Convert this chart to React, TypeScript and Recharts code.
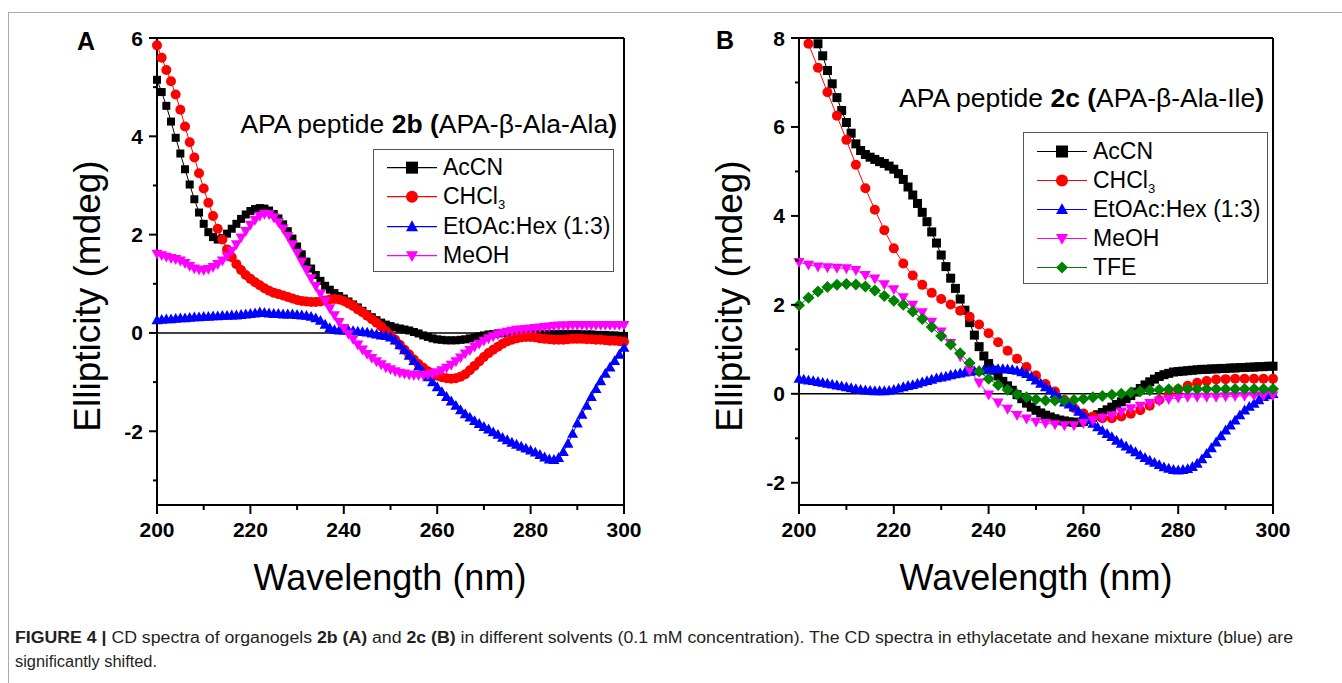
import { LineChart, Line, XAxis, YAxis, ReferenceLine, Legend } from 'recharts'

// ── Data ───────────────────────────────────────────────────────────────────────
const WL_1NM = [
  200, 201, 202, 203, 204, 205, 206, 207, 208, 209,
  210, 211, 212, 213, 214, 215, 216, 217, 218, 219,
  220, 221, 222, 223, 224, 225, 226, 227, 228, 229,
  230, 231, 232, 233, 234, 235, 236, 237, 238, 239,
  240, 241, 242, 243, 244, 245, 246, 247, 248, 249,
  250, 251, 252, 253, 254, 255, 256, 257, 258, 259,
  260, 261, 262, 263, 264, 265, 266, 267, 268, 269,
  270, 271, 272, 273, 274, 275, 276, 277, 278, 279,
  280, 281, 282, 283, 284, 285, 286, 287, 288, 289,
  290, 291, 292, 293, 294, 295, 296, 297, 298, 299,
  300,
]

const WL_2NM = [
  200, 202, 204, 206, 208, 210, 212, 214, 216, 218,
  220, 222, 224, 226, 228, 230, 232, 234, 236, 238,
  240, 242, 244, 246, 248, 250, 252, 254, 256, 258,
  260, 262, 264, 266, 268, 270, 272, 274, 276, 278,
  280, 282, 284, 286, 288, 290, 292, 294, 296, 298,
  300,
]

const X_TICKS = [200, 210, 220, 230, 240, 250, 260, 270, 280, 290, 300]
const Y_TICKS_A = [-3, -2, -1, 0, 1, 2, 3, 4, 5, 6]
const Y_TICKS_B = [-2, -1, 0, 1, 2, 3, 4, 5, 6, 7, 8]

// panel A, 2b (1 nm step)
const A_ACCN = [
  5.15, 4.90, 4.62, 4.30, 3.97, 3.65, 3.33, 3.02, 2.72, 2.45,
  2.22, 2.05, 1.95, 1.90, 1.93, 2.02, 2.12, 2.22, 2.32, 2.41,
  2.48, 2.52, 2.54, 2.53, 2.49, 2.42, 2.33, 2.21, 2.07, 1.92,
  1.76, 1.60, 1.45, 1.31, 1.18, 1.06, 0.96, 0.88, 0.81, 0.75,
  0.70, 0.64, 0.58, 0.52, 0.45, 0.38, 0.32, 0.26, 0.21, 0.17,
  0.14, 0.11, 0.09, 0.07, 0.05, 0.02, -0.01, -0.05, -0.08, -0.11,
  -0.13, -0.14, -0.15, -0.15, -0.15, -0.14, -0.13, -0.11, -0.09, -0.07,
  -0.05, -0.03, -0.02, -0.01, 0.00, 0.00, 0.00, -0.01, -0.01, -0.02,
  -0.02, -0.02, -0.02, -0.02, -0.02, -0.02, -0.02, -0.02, -0.02, -0.02,
  -0.02, -0.03, -0.03, -0.03, -0.04, -0.04, -0.04, -0.05, -0.05, -0.06,
  -0.06,
]
const A_CHCL3 = [
  5.85, 5.60, 5.35, 5.12, 4.85, 4.54, 4.20, 3.88, 3.57, 3.25,
  2.94, 2.65, 2.38, 2.12, 1.90, 1.70, 1.54, 1.40, 1.28, 1.18,
  1.10, 1.03, 0.97, 0.91, 0.86, 0.82, 0.79, 0.76, 0.73, 0.70,
  0.67, 0.65, 0.64, 0.63, 0.63, 0.64, 0.66, 0.68, 0.69, 0.68,
  0.65, 0.60, 0.55, 0.48, 0.42, 0.35, 0.28, 0.21, 0.13, 0.04,
  -0.05, -0.14, -0.24, -0.34, -0.44, -0.54, -0.63, -0.71, -0.78, -0.83,
  -0.87, -0.90, -0.92, -0.93, -0.92, -0.89, -0.84, -0.76, -0.67, -0.58,
  -0.49, -0.41, -0.34, -0.28, -0.22, -0.17, -0.14, -0.11, -0.09, -0.08,
  -0.08, -0.09, -0.11, -0.12, -0.13, -0.14, -0.14, -0.14, -0.13, -0.12,
  -0.12, -0.12, -0.13, -0.13, -0.14, -0.14, -0.15, -0.16, -0.16, -0.17,
  -0.18,
]
const A_ETOAC = [
  0.26, 0.27, 0.28, 0.28, 0.29, 0.30, 0.30, 0.31, 0.32, 0.32,
  0.33, 0.33, 0.34, 0.34, 0.35, 0.35, 0.36, 0.36, 0.37, 0.38,
  0.39, 0.40, 0.42, 0.41, 0.40, 0.39, 0.39, 0.38, 0.38, 0.38,
  0.37, 0.36, 0.35, 0.33, 0.30, 0.25, 0.17, 0.10, 0.06, 0.05,
  0.05, 0.05, 0.04, 0.03, 0.02, 0.01, -0.01, -0.03, -0.05, -0.06,
  -0.09, -0.15, -0.25, -0.35, -0.46, -0.57, -0.68, -0.79, -0.90, -1.00,
  -1.10, -1.20, -1.30, -1.39, -1.48, -1.57, -1.65, -1.72, -1.79, -1.85,
  -1.91, -1.96, -2.02, -2.07, -2.13, -2.18, -2.23, -2.27, -2.31, -2.35,
  -2.39, -2.43, -2.48, -2.53, -2.57, -2.58, -2.54, -2.42, -2.25, -2.05,
  -1.84, -1.66, -1.48, -1.30, -1.14, -0.98, -0.83, -0.70, -0.57, -0.44,
  -0.30,
]
const A_MEOH = [
  1.61, 1.58, 1.55, 1.52, 1.50, 1.47, 1.42, 1.36, 1.31, 1.29,
  1.28, 1.30, 1.34, 1.40, 1.47, 1.56, 1.67, 1.80, 1.94, 2.07,
  2.20, 2.30, 2.38, 2.42, 2.41, 2.35, 2.25, 2.12, 1.97, 1.80,
  1.63, 1.45, 1.28, 1.11, 0.95, 0.80, 0.65, 0.50, 0.36, 0.22,
  0.10, -0.02, -0.13, -0.24, -0.34, -0.43, -0.51, -0.58, -0.64, -0.70,
  -0.74, -0.78, -0.81, -0.83, -0.85, -0.86, -0.86, -0.86, -0.85, -0.83,
  -0.80, -0.76, -0.71, -0.65, -0.58, -0.50, -0.42, -0.35, -0.28, -0.22,
  -0.16, -0.11, -0.07, -0.03, 0.00, 0.02, 0.04, 0.06, 0.07, 0.08,
  0.09, 0.10, 0.11, 0.12, 0.13, 0.14, 0.15, 0.15, 0.15, 0.16,
  0.16, 0.16, 0.16, 0.16, 0.16, 0.16, 0.16, 0.16, 0.16, 0.16,
  0.16,
]

// panel B, 2c (AcCN and EtOAc 1 nm step, the others 2 nm)
const B_ACCN = [
  null, null, null, null, 7.87, 7.60, 7.27, 6.97, 6.66, 6.37,
  6.10, 5.86, 5.62, 5.47, 5.38, 5.32, 5.27, 5.22, 5.18, 5.12,
  5.05, 4.95, 4.82, 4.65, 4.47, 4.28, 4.08, 3.87, 3.64, 3.39,
  3.12, 2.86, 2.60, 2.37, 2.13, 1.88, 1.60, 1.32, 1.06, 0.85,
  0.68, 0.53, 0.40, 0.28, 0.18, 0.08, -0.02, -0.11, -0.21, -0.30,
  -0.37, -0.43, -0.48, -0.52, -0.56, -0.59, -0.61, -0.63, -0.64, -0.64,
  -0.62, -0.58, -0.53, -0.47, -0.42, -0.36, -0.30, -0.24, -0.18, -0.11,
  -0.04, 0.04, 0.12, 0.20, 0.27, 0.33, 0.39, 0.43, 0.46, 0.49,
  0.50, 0.51, 0.52, 0.53, 0.54, 0.55, 0.55, 0.56, 0.56, 0.57,
  0.57, 0.58, 0.58, 0.59, 0.59, 0.60, 0.60, 0.61, 0.61, 0.62,
  0.62,
]
const B_CHCL3 = [
  null, 7.87, 7.33, 6.78, 6.25, 5.71, 5.15, 4.62, 4.14, 3.68,
  3.27, 2.93, 2.66, 2.45, 2.27, 2.13, 2.01, 1.87, 1.73, 1.56,
  1.36, 1.16, 0.97, 0.79, 0.60, 0.41, 0.22, 0.05, -0.14, -0.32,
  -0.44, -0.51, -0.55, -0.55, -0.51, -0.45, -0.37, -0.27, -0.14, -0.02,
  0.10, 0.18, 0.25, 0.29, 0.32, 0.33, 0.34, 0.34, 0.34, 0.34,
  0.34,
]
const B_ETOAC = [
  0.34, 0.32, 0.30, 0.29, 0.27, 0.25, 0.23, 0.21, 0.19, 0.17,
  0.15, 0.13, 0.11, 0.09, 0.08, 0.07, 0.06, 0.06, 0.06, 0.07,
  0.09, 0.12, 0.15, 0.18, 0.20, 0.23, 0.26, 0.29, 0.32, 0.35,
  0.37, 0.39, 0.42, 0.44, 0.46, 0.48, 0.50, 0.51, 0.52, 0.53,
  0.54, 0.55, 0.56, 0.56, 0.55, 0.54, 0.52, 0.49, 0.45, 0.38,
  0.30, 0.23, 0.15, 0.08, 0.00, -0.10, -0.19, -0.24, -0.30, -0.40,
  -0.49, -0.58, -0.67, -0.75, -0.83, -0.90, -0.97, -1.05, -1.12, -1.18,
  -1.25, -1.31, -1.38, -1.44, -1.50, -1.55, -1.60, -1.65, -1.68, -1.71,
  -1.72, -1.71, -1.69, -1.64, -1.57, -1.47, -1.35, -1.22, -1.09, -0.95,
  -0.82, -0.71, -0.60, -0.48, -0.37, -0.29, -0.22, -0.14, -0.07, -0.03,
  0.00,
]
const B_MEOH = [
  2.96, 2.90, 2.86, 2.84, 2.83, 2.82, 2.78, 2.67, 2.59, 2.46,
  2.35, 2.17, 2.00, 1.83, 1.62, 1.40, 1.14, 0.84, 0.53, 0.25,
  -0.02, -0.20, -0.34, -0.48, -0.56, -0.63, -0.66, -0.69, -0.71, -0.71,
  -0.66, -0.60, -0.54, -0.49, -0.40, -0.33, -0.27, -0.21, -0.16, -0.12,
  -0.09, -0.07, -0.07, -0.07, -0.07, -0.06, -0.05, -0.05, -0.04, -0.04,
  -0.04,
]
const B_TFE = [
  1.99, 2.16, 2.30, 2.40, 2.45, 2.47, 2.46, 2.41, 2.32, 2.20,
  2.09, 2.00, 1.85, 1.68, 1.50, 1.30, 1.11, 0.91, 0.69, 0.50,
  0.34, 0.20, 0.09, -0.01, -0.08, -0.12, -0.15, -0.15, -0.15, -0.14,
  -0.11, -0.08, -0.05, -0.02, 0.00, 0.03, 0.06, 0.08, 0.09, 0.10,
  0.11, 0.11, 0.11, 0.11, 0.11, 0.11, 0.11, 0.11, 0.11, 0.11,
  0.11,
]

// ── Helpers ────────────────────────────────────────────────────────────────────
type Shape = 'square' | 'circle' | 'up' | 'down' | 'diamond'

interface Series {
  name: string
  xs: number[]
  ys: (number | null)[]
  color: string
  shape: Shape
  size: number
}

const toRows = (xs: number[], ys: (number | null)[]) =>
  xs.map((x, i) => ({ x, y: ys[i] })).filter(r => r.y !== null)

const FONT = 'Arial, "Liberation Sans", Helvetica, sans-serif'

const SERIES_A: Series[] = [
  { name: 'AcCN',  xs: WL_1NM, ys: A_ACCN,  color: '#000000', shape: 'square', size: 8 },
  { name: 'CHCl3', xs: WL_1NM, ys: A_CHCL3, color: '#ff0000', shape: 'circle', size: 10 },
  { name: 'EtOAc', xs: WL_1NM, ys: A_ETOAC, color: '#0000ff', shape: 'up',     size: 11 },
  { name: 'MeOH',  xs: WL_1NM, ys: A_MEOH,  color: '#ff00ff', shape: 'down',   size: 11 },
]

const SERIES_B: Series[] = [
  { name: 'AcCN',  xs: WL_1NM, ys: B_ACCN,  color: '#000000', shape: 'square',  size: 9 },
  { name: 'CHCl3', xs: WL_2NM, ys: B_CHCL3, color: '#ff0000', shape: 'circle',  size: 10 },
  { name: 'EtOAc', xs: WL_1NM, ys: B_ETOAC, color: '#0000ff', shape: 'up',      size: 11 },
  { name: 'MeOH',  xs: WL_2NM, ys: B_MEOH,  color: '#ff00ff', shape: 'down',    size: 11 },
  { name: 'TFE',   xs: WL_2NM, ys: B_TFE,   color: '#008000', shape: 'diamond', size: 12 },
]

// ── Markers ────────────────────────────────────────────────────────────────────
function Marker({ cx, cy, shape, color, size }: {
  cx: number; cy: number; shape: Shape; color: string; size: number
}) {
  const h = size / 2
  switch (shape) {
    case 'square':
      return <rect x={cx - h} y={cy - h} width={size} height={size} fill={color} />
    case 'circle':
      return <circle cx={cx} cy={cy} r={h} fill={color} />
    case 'up':
      return <polygon fill={color}
        points={`${cx},${cy - h * 1.05} ${cx + h},${cy + h * 0.75} ${cx - h},${cy + h * 0.75}`} />
    case 'down':
      return <polygon fill={color}
        points={`${cx},${cy + h * 1.05} ${cx + h},${cy - h * 0.75} ${cx - h},${cy - h * 0.75}`} />
    default:
      return <polygon fill={color}
        points={`${cx},${cy - h} ${cx + h},${cy} ${cx},${cy + h} ${cx - h},${cy}`} />
  }
}

const dotFor = (s: Series) => (props: any) => {
  const { cx, cy, index } = props
  if (cx == null || cy == null) return <g key={`d-${index}`} />
  return (
    <g key={`d-${index}`}>
      <Marker cx={cx} cy={cy} shape={s.shape} color={s.color} size={s.size} />
    </g>
  )
}

// ── Ticks ──────────────────────────────────────────────────────────────────────
const TICK_TEXT = { fontFamily: FONT, fontSize: 21, fontWeight: 700, fill: '#000' }

function XTick({ x, y, payload }: any) {
  const major = payload.value % 20 === 0
  return (
    <g>
      <line x1={x} x2={x} y1={y} y2={y + (major ? 9 : 5)} stroke="#000" strokeWidth={2} />
      {major && (
        <text x={x} y={y + 32} textAnchor="middle" style={TICK_TEXT}>{payload.value}</text>
      )}
    </g>
  )
}

function YTick({ x, y, payload }: any) {
  const major = payload.value % 2 === 0
  return (
    <g>
      <line x1={x - (major ? 8 : 4)} x2={x} y1={y} y2={y} stroke="#000" strokeWidth={2} />
      {major && (
        <text x={x - 14} y={y + 7.5} textAnchor="end" style={TICK_TEXT}>{payload.value}</text>
      )}
    </g>
  )
}

// ── Legend ─────────────────────────────────────────────────────────────────────
function LegendLabel({ name }: { name: string }) {
  if (name === 'CHCl3') {
    return <span>CHCl<span style={{ fontSize: 13, position: 'relative', top: 5 }}>3</span></span>
  }
  if (name === 'EtOAc') return <span>EtOAc:Hex (1:3)</span>
  return <span>{name}</span>
}

function LegendBox({ series, width, rowH, padTop }: {
  series: Series[]; width: number; rowH: number; padTop: number
}) {
  return (
    <div style={{
      width, boxSizing: 'border-box', border: '1.5px solid #555', background: '#fff',
      paddingTop: padTop, paddingBottom: 1, fontFamily: FONT, fontSize: 23, color: '#000',
    }}>
      {series.map(s => (
        <div key={s.name} style={{ height: rowH, display: 'flex', alignItems: 'center' }}>
          <svg width={66} height={rowH} style={{ flex: 'none', overflow: 'visible' }}>
            <line x1={13} x2={63} y1={rowH / 2} y2={rowH / 2} stroke={s.color} strokeWidth={1.2} />
            <Marker cx={38} cy={rowH / 2} shape={s.shape} color={s.color} size={12} />
          </svg>
          <span style={{ marginLeft: 3, whiteSpace: 'nowrap', lineHeight: 1 }}>
            <LegendLabel name={s.name} />
          </span>
        </div>
      ))}
    </div>
  )
}

// ── Panel ──────────────────────────────────────────────────────────────────────
function Panel({ series, yDomain, yTicks, width, margin, legend }: {
  series: Series[]
  yDomain: [number, number]
  yTicks: number[]
  width: number
  margin: { top: number; right: number; bottom: number; left: number }
  legend: { left: number; top: number; width: number; rowH: number; padTop: number }
}) {
  return (
    <LineChart width={width} height={570} margin={margin}>
      <XAxis
        type="number" dataKey="x" domain={[200, 300]} ticks={X_TICKS} interval={0}
        height={60} tickSize={0} tickMargin={0} tickLine={false}
        axisLine={{ stroke: '#000', strokeWidth: 2 }} tick={<XTick />}
      />
      <YAxis
        type="number" dataKey="y" domain={yDomain} ticks={yTicks} interval={0}
        width={60} tickSize={0} tickMargin={0} tickLine={false}
        axisLine={{ stroke: '#000', strokeWidth: 2 }} tick={<YTick />}
      />
      <ReferenceLine y={yDomain[1]} stroke="#000" strokeWidth={2} />
      <ReferenceLine x={300} stroke="#000" strokeWidth={2} />
      <ReferenceLine y={0} stroke="#000" strokeWidth={1.5} />
      {series.map(s => (
        <Line
          key={s.name}
          data={toRows(s.xs, s.ys)}
          dataKey="y"
          name={s.name}
          type="linear"
          stroke={s.color}
          strokeWidth={1}
          dot={dotFor(s)}
          activeDot={false}
          isAnimationActive={false}
        />
      ))}
      <Legend
        layout="vertical" align="center" verticalAlign="middle"
        wrapperStyle={{ left: legend.left, top: legend.top, width: legend.width }}
        content={() => (
          <LegendBox series={series} width={legend.width} rowH={legend.rowH} padTop={legend.padTop} />
        )}
      />
    </LineChart>
  )
}

// ── Main Component ─────────────────────────────────────────────────────────────
export default function App() {
  const axisTitle = { fontFamily: FONT, fontSize: 37, fill: '#000' }
  const titleText = { fontFamily: FONT, fontSize: 26.5, fill: '#000' }
  const letter    = { fontFamily: FONT, fontSize: 25, fontWeight: 700, fill: '#000' }
  const caption   = { fontFamily: FONT, fontSize: 16, fill: '#231f20' }

  return (
    <div style={{ position: 'absolute', left: 0, top: 0, width: 1342, height: 683, background: '#fff', overflow: 'hidden' }}>
      <div style={{ position: 'absolute', left: 0, top: 0 }}>
        <Panel
          series={SERIES_A} yDomain={[-3.5, 6]} yTicks={Y_TICKS_A} width={660}
          margin={{ top: 38, right: 36, bottom: 5, left: 97 }}
          legend={{ left: 373, top: 149, width: 241, rowH: 29.3, padTop: 3 }}
        />
      </div>
      <div style={{ position: 'absolute', left: 640, top: 0 }}>
        <Panel
          series={SERIES_B} yDomain={[-2.5, 8]} yTicks={Y_TICKS_B} width={690}
          margin={{ top: 38, right: 57, bottom: 5, left: 99 }}
          legend={{ left: 383, top: 132, width: 245, rowH: 29, padTop: 4 }}
        />
      </div>

      <svg width={1342} height={683} style={{ position: 'absolute', left: 0, top: 0, pointerEvents: 'none' }}>
        <line x1={8} x2={1342} y1={12.5} y2={12.5} stroke="#aaa" strokeWidth={1} />
        <line x1={8.5} x2={8.5} y1={12} y2={683} stroke="#aaa" strokeWidth={1} />

        <text x={77} y={50} style={letter}>A</text>
        <text x={716} y={49} style={letter}>B</text>

        <text x={617} y={133} textAnchor="end" style={titleText}>
          APA peptide <tspan fontWeight={700}>2b (</tspan>APA-β-Ala-Ala<tspan fontWeight={700}>)</tspan>
        </text>
        <text x={1264} y={107} textAnchor="end" style={titleText}>
          APA peptide <tspan fontWeight={700}>2c (</tspan>APA-β-Ala-Ile<tspan fontWeight={700}>)</tspan>
        </text>

        <text transform="translate(100,296) rotate(-90)" textAnchor="middle" style={axisTitle}>Ellipticity (mdeg)</text>
        <text transform="translate(742,296) rotate(-90)" textAnchor="middle" style={axisTitle}>Ellipticity (mdeg)</text>
        <text x={390} y={590} textAnchor="middle" style={{ ...axisTitle, fontSize: 36 }}>Wavelength (nm)</text>
        <text x={1036} y={590} textAnchor="middle" style={{ ...axisTitle, fontSize: 36 }}>Wavelength (nm)</text>

        <text x={15} y={643} style={caption} textLength={1278} lengthAdjust="spacingAndGlyphs">
          <tspan fontWeight={700}>FIGURE 4 | </tspan>CD spectra of organogels <tspan fontWeight={700}>2b (A)</tspan> and <tspan fontWeight={700}>2c (B)</tspan> in different solvents (0.1  mM concentration). The CD spectra in ethylacetate and hexane mixture (blue) are
        </text>
        <text x={15} y={667} style={caption} textLength={142} lengthAdjust="spacingAndGlyphs">significantly shifted.</text>
      </svg>
    </div>
  )
}
